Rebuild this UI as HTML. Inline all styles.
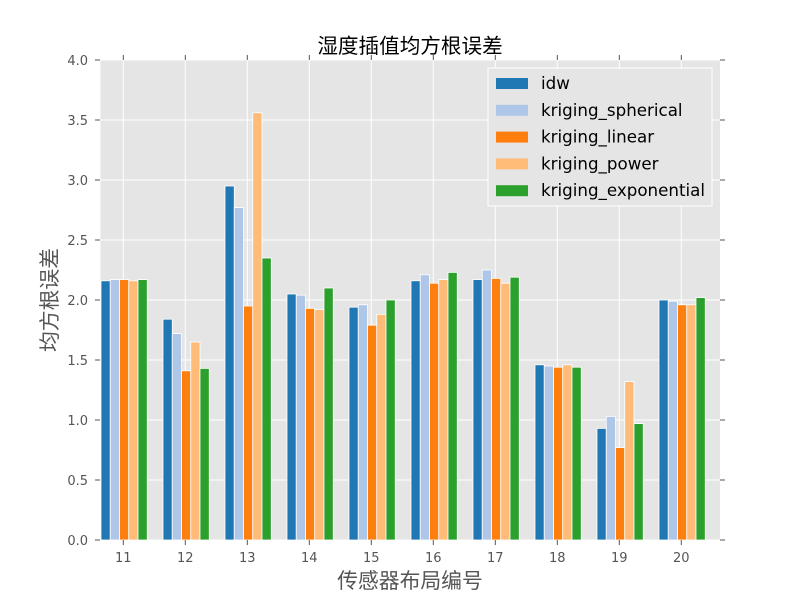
<!DOCTYPE html>
<html><head><meta charset="utf-8"><style>
body{margin:0;background:#fff;}
svg text{font-family:"DejaVu Sans","Noto Sans CJK SC",sans-serif;}
</style></head><body>
<svg id="chart" width="800" height="600" xmlns="http://www.w3.org/2000/svg">
<rect x="100.5" y="60" width="619.5" height="480" fill="#e5e5e5"/>
<g id="grid"></g><g id="bars"></g><g id="axes"></g>
<text x="410" y="53" text-anchor="middle" font-size="20.6" fill="#000">湿度插值均方根误差</text>
<text x="410" y="588" text-anchor="middle" font-size="20.8" fill="#555">传感器布局编号</text>
<text x="0" y="0" transform="translate(57,300) rotate(-90)" text-anchor="middle" font-size="20.8" fill="#555">均方根误差</text>
<g id="legend"></g>
</svg>
<script>
const categories=["11","12","13","14","15","16","17","18","19","20"];
const seriesNames=["idw","kriging_spherical","kriging_linear","kriging_power","kriging_exponential"];
const idw=[2.16,1.84,2.95,2.05,1.94,2.16,2.17,1.46,0.93,2.00];
const spherical=[2.17,1.72,2.77,2.04,1.96,2.21,2.25,1.45,1.03,1.99];
const linear=[2.17,1.41,1.95,1.93,1.79,2.14,2.18,1.44,0.77,1.96];
const power=[2.16,1.65,3.56,1.92,1.88,2.17,2.14,1.46,1.32,1.96];
const exponential=[2.17,1.43,2.35,2.10,2.00,2.23,2.19,1.44,0.97,2.02];
const yTicks=["0.0","0.5","1.0","1.5","2.0","2.5","3.0","3.5","4.0"];
const colors=["#1f77b4","#aec7e8","#ff7f0e","#ffbb78","#2ca02c"];
const series=[idw,spherical,linear,power,exponential];
const NS="http://www.w3.org/2000/svg";
const y=v=>540-v*120;
const x=i=>123.3+i*62;
function mk(t,a,p){const e=document.createElementNS(NS,t);for(const k in a)e.setAttribute(k,a[k]);p.appendChild(e);return e;}
const grid=document.getElementById('grid'),axes=document.getElementById('axes'),bars=document.getElementById('bars');
yTicks.forEach(t=>{const v=parseFloat(t);const yy=y(v);
 const g=mk('line',{x1:100,x2:720,y1:yy,y2:yy,stroke:'#fff','stroke-width':1},grid);
 
 
 mk('line',{x1:95,x2:100,y1:yy,y2:yy,stroke:'#555'},axes);
 mk('line',{x1:720,x2:725,y1:yy,y2:yy,stroke:'#555'},axes);
 const tx=mk('text',{x:88,y:yy+5,'text-anchor':'end','font-size':13,fill:'#555'},axes);tx.textContent=t;
 
 
});
categories.forEach((c,i)=>{const xx=x(i);
 const g=mk('line',{x1:xx,x2:xx,y1:60,y2:540,stroke:'#fff','stroke-width':1},grid);
 
 
 mk('line',{x1:xx,x2:xx,y1:540,y2:545,stroke:'#555'},axes);
 mk('line',{x1:xx,x2:xx,y1:55,y2:60,stroke:'#555'},axes);
 const tx=mk('text',{x:xx,y:562,'text-anchor':'middle','font-size':13,fill:'#555'},axes);tx.textContent=c;
 
 
 series.forEach((s,k)=>{const l=xx-22.3+k*9.25;
  const r=mk('rect',{x:l,y:y(s[i]),width:9.25,height:540-y(s[i]),fill:colors[k],stroke:'#fff','stroke-width':0.8},bars);
  
  
 });
});
const lg=document.getElementById('legend');
mk('rect',{x:488,y:68,width:224,height:138,fill:'#e5e5e5',stroke:'#fff'},lg);
seriesNames.forEach((n,k)=>{const yy=83+k*26.8;
 const sw=mk('rect',{x:496,y:yy-5,width:32,height:11,fill:colors[k]},lg);
 
 
 const t=mk('text',{x:541,y:yy+6,'font-size':16.7,fill:'#000'},lg);t.textContent=n;
 
 
});
</script>
</body></html>
